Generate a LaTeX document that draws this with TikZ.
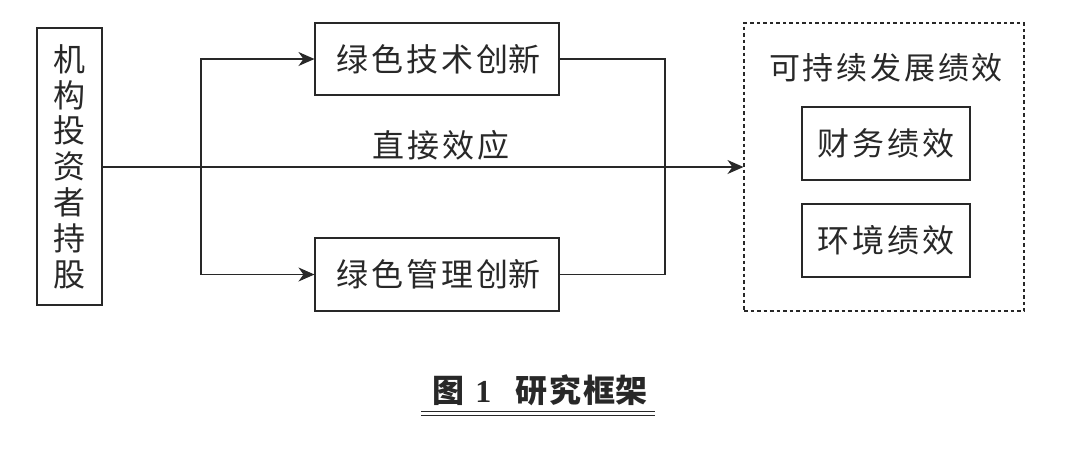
\documentclass[tikz,border=0pt]{standalone}
\usepackage{fontspec}
\newfontfamily\cjk[LetterSpace=9]{Noto Sans CJK SC}
\newfontfamily\cjkcap[LetterSpace=7]{Noto Sans CJK SC}
\newfontfamily\serifnum{Liberation Serif}
\usetikzlibrary{arrows.meta}
\definecolor{ink}{RGB}{40,40,40}
\tikzset{
  boxnode/.style={draw=ink, line width=1.1pt, rectangle, inner sep=0pt, align=center, text=ink, font=\cjk\fontsize{32}{36}\selectfont},
  txt/.style={inner sep=0pt, text=ink, font=\cjk\fontsize{32}{36}\selectfont},
  conn/.style={draw=ink, line width=1.1pt},
  arr/.style={conn, -{Stealth[length=16pt,width=14pt,inset=5pt]}},
}
\begin{document}
\begin{tikzpicture}[x=1pt,y=-1pt]
\path[use as bounding box, fill=white] (0,0) rectangle (1079,459);
% nodes
\node[boxnode, minimum width=65pt, minimum height=277pt, font=\cjk\fontsize{32}{35.8}\selectfont] (inv) at (69.5,166.5) {机\\构\\投\\资\\者\\持\\股};
\node[boxnode, minimum width=244pt, minimum height=72pt] (tech) at (437,59) {绿色技术创\mbox{新}\kern-2.9pt};
\node[boxnode, minimum width=244pt, minimum height=73pt] (mgmt) at (437,274.5) {绿色管理创\mbox{新}\kern-2.9pt};
\node[draw=ink, line width=1.1pt, dash pattern=on 3.5pt off 3pt, rectangle, minimum width=280pt, minimum height=288pt, inner sep=0pt] (perf) at (884,167) {};
\node[txt, font=\cjk\fontsize{31}{36}\selectfont] (ptitle) at (886,68) {可持续发展绩效};
\node[boxnode, minimum width=168pt, minimum height=73pt] (fin) at (886,143.5) {财务绩效};
\node[boxnode, minimum width=168pt, minimum height=73pt] (env) at (886,240.5) {环境绩效};
\node[txt] (direct) at (441,145) {直接效应};
\node[txt, font=\cjkcap\bfseries\fontsize{32}{36}\selectfont] (cap) at (539,390) {图\hspace{11pt}{\serifnum\bfseries 1}\hspace{24pt}研究框\mbox{架}\kern-2pt};
\coordinate (ul1) at (421,411);
\coordinate (ur1) at (655,411);
\coordinate (ul2) at (421,415);
\coordinate (ur2) at (655,415);
% coordinates
\coordinate (br) at (201,167);
\coordinate (join) at (665,167);
% connectors
\draw[arr] (inv.east |- br) -- (perf.west |- br);
\draw[arr] (br) |- (tech.west);
\draw[arr] (br) |- (mgmt.west);
\draw[conn] (tech.east) -| (join) |- (mgmt.east);
\draw[draw=ink, line width=1pt] (ul1) -- (ur1);
\draw[draw=ink, line width=1pt] (ul2) -- (ur2);
\end{tikzpicture}
\end{document}
